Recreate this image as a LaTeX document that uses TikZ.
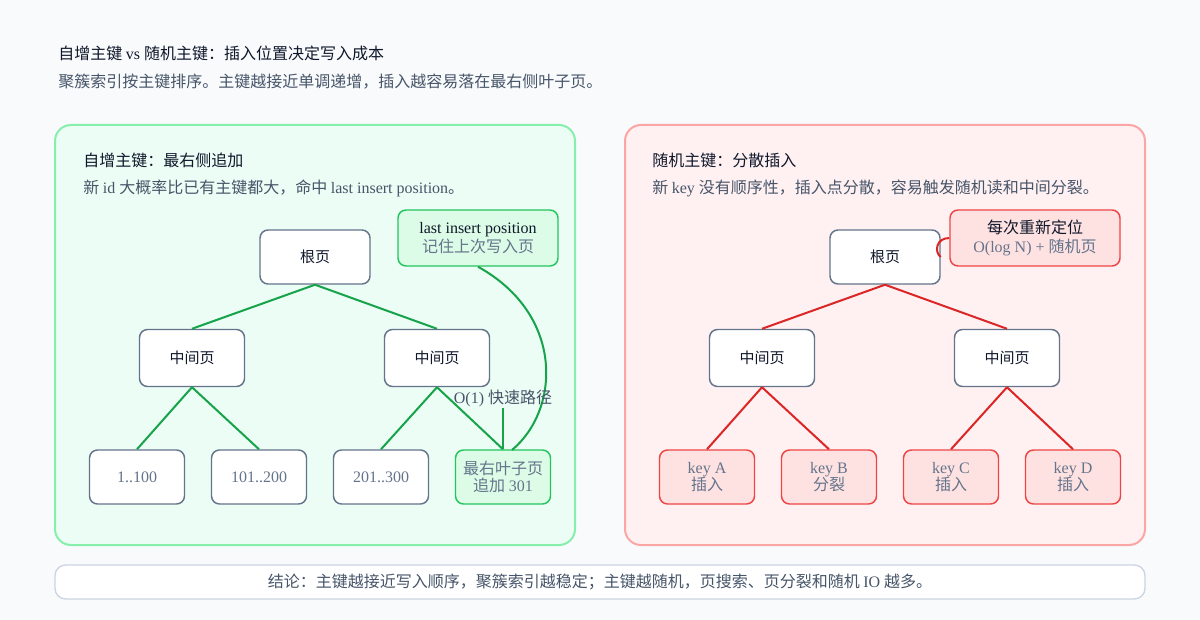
\documentclass[tikz,border=0pt]{standalone}
\usepackage{fontspec}
\setmainfont{Liberation Serif}
\newfontfamily\cjk{Noto Sans CJK SC}
\XeTeXinterchartokenstate=1
\newXeTeXintercharclass\CJKcls
\newcount\cc
\cc="3000
\loop\XeTeXcharclass\cc=\CJKcls\ifnum\cc<"9FFF\relax\advance\cc by 1\repeat
\cc="FF00
\loop\XeTeXcharclass\cc=\CJKcls\ifnum\cc<"FFEF\relax\advance\cc by 1\repeat
\XeTeXinterchartoks 0 \CJKcls = {\cjk}
\XeTeXinterchartoks 4095 \CJKcls = {\cjk}
\XeTeXinterchartoks \CJKcls 0 = {\rmfamily}
\XeTeXinterchartoks 4095 0 = {\rmfamily}
\usetikzlibrary{positioning}
\definecolor{bg}{HTML}{F8FAFC}
\definecolor{ink}{HTML}{0F172A}
\definecolor{sub}{HTML}{475569}
\definecolor{slate}{HTML}{64748B}
\definecolor{gfill}{HTML}{ECFDF5}
\definecolor{gline}{HTML}{86EFAC}
\definecolor{gdark}{HTML}{16A34A}
\definecolor{gbox}{HTML}{DCFCE7}
\definecolor{gboxline}{HTML}{22C55E}
\definecolor{rfill}{HTML}{FFF1F2}
\definecolor{rline}{HTML}{FCA5A5}
\definecolor{rdark}{HTML}{DC2626}
\definecolor{rbox}{HTML}{FEE2E2}
\definecolor{rboxline}{HTML}{EF4444}
\definecolor{barline}{HTML}{CBD5E1}
\tikzset{
  panel/.style={rounded corners=12pt, line width=1.5pt},
  pagebox/.style={draw=slate, fill=white, rounded corners=6pt, line width=1.1pt, align=center, text=ink, font=\fontsize{11.25}{13}\selectfont},
  rootbox/.style={pagebox, minimum width=82.5pt, minimum height=40.5pt},
  midbox/.style={pagebox, minimum width=78.75pt, minimum height=42.75pt},
  leafbox/.style={pagebox, minimum width=71.25pt, minimum height=40.5pt, text=slate, font=\fontsize{12}{12.75}\selectfont},
  gleaf/.style={leafbox, draw=gboxline, fill=gbox},
  rleaf/.style={leafbox, draw=rboxline, fill=rbox},
  gnote/.style={pagebox, draw=gboxline, fill=gbox, minimum width=120pt, minimum height=42pt, font=\fontsize{12}{14.25}\selectfont},
  rnote/.style={pagebox, draw=rboxline, fill=rbox, minimum width=127.5pt, minimum height=42pt, font=\fontsize{12}{14.25}\selectfont},
  gedge/.style={draw=gdark, line width=1.5pt},
  redge/.style={draw=rdark, line width=1.5pt},
  lbl/.style={anchor=west, inner sep=0pt},
  ttl/.style={lbl, text=ink, font=\fontsize{12}{14}\selectfont},
  sbt/.style={lbl, text=sub, font=\fontsize{12}{14}\selectfont},
}
\begin{document}
\begin{tikzpicture}[x=0.75pt,y=-0.75pt]
\fill[bg] (0,0) rectangle (1200,620);
\useasboundingbox (0,0) rectangle (1200,620);
% titles
\node[ttl] (title) at (58,53) {自增主键 vs 随机主键：插入位置决定写入成本};
\node[sbt] (subtitle) at (58,82) {聚簇索引按主键排序。主键越接近单调递增，插入越容易落在最右侧叶子页。};
% panels
\draw[panel, draw=gline, fill=gfill] (55,125) rectangle (575,545);
\draw[panel, draw=rline, fill=rfill] (625,125) rectangle (1145,545);
\node[ttl] (ltitle) at (83,160) {自增主键：最右侧追加};
\node[sbt] (lsub) at (83,188) {新 id 大概率比已有主键都大，命中 last insert position。};
\node[ttl] (rtitle) at (652,160) {随机主键：分散插入};
\node[sbt] (rsub) at (652,188) {新 key 没有顺序性，插入点分散，容易触发随机读和中间分裂。};
% left tree
\node[rootbox] (lroot) at (315,257) {根页};
\node[midbox] (lm1) at (192,358) {中间页};
\node[midbox] (lm2) at (437,358) {中间页};
\node[leafbox] (l1) at (137,477) {1..100};
\node[leafbox] (l2) at (259,477) {101..200};
\node[leafbox] (l3) at (381,477) {201..300};
\node[gleaf] (l4) at (503,477) {最右叶子页\\追加 301};
\node[gnote] (lnote) at (478,238) {last insert position\\\textcolor{slate}{记住上次写入页}};
\draw[gedge] (lroot.south) -- (lm1.north);
\draw[gedge] (lroot.south) -- (lm2.north);
\draw[gedge] (lm1.south) -- (l1.north);
\draw[gedge] (lm1.south) -- (l2.north);
\draw[gedge] (lm2.south) -- (l3.north);
\draw[gedge] (lm2.south) -- (l4.north);
\coordinate (cend) at (512,450);
\draw[gedge] (lnote.south) .. controls (565,315) and (560,410) .. (cend);
\node[text=sub, font=\fontsize{12}{13}\selectfont, inner sep=1pt] (fast) at (503,398) {O(1) 快速路径};
\draw[gedge] (fast.south) -- (l4.north);
% right tree
\node[rootbox] (rroot) at (885,257) {根页};
\node[midbox] (rm1) at (762,358) {中间页};
\node[midbox] (rm2) at (1007,358) {中间页};
\node[rleaf] (ra) at (707,477) {key A\\插入};
\node[rleaf] (rb) at (829,477) {key B\\分裂};
\node[rleaf] (rc) at (951,477) {key C\\插入};
\node[rleaf] (rd) at (1073,477) {key D\\插入};
\node[rnote] (rnote) at (1035,238) {每次重新定位\\\textcolor{slate}{O(log N) + 随机页}};
\draw[redge] (rroot.south) -- (rm1.north);
\draw[redge] (rroot.south) -- (rm2.north);
\draw[redge] (rm1.south) -- (ra.north);
\draw[redge] (rm1.south) -- (rb.north);
\draw[redge] (rm2.south) -- (rc.north);
\draw[redge] (rm2.south) -- (rd.north);
\draw[redge] (rroot.east) .. controls (934,252) and (936,238) .. (rnote.west);
% bottom
\node[draw=barline, fill=white, rounded corners=8pt, line width=1pt, minimum width=817.5pt, minimum height=25.5pt, text=sub, font=\fontsize{12}{13}\selectfont] (bar) at (600,582) {结论：主键越接近写入顺序，聚簇索引越稳定；主键越随机，页搜索、页分裂和随机 IO 越多。};
\end{tikzpicture}
\end{document}
